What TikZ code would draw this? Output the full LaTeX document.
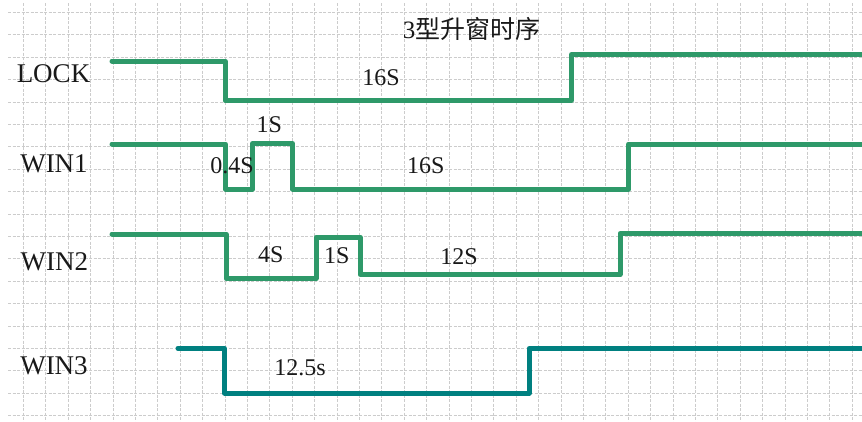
\documentclass[tikz,border=0pt]{standalone}
\usepackage{fontspec}
\setmainfont{Liberation Serif}
\newfontfamily\cjk{Noto Sans CJK SC}
\usepackage{tikz}
\usetikzlibrary{calc}
\usetikzlibrary{positioning}
\definecolor{wingreen}{rgb}{0.18,0.60,0.41}
\definecolor{winteal}{rgb}{0,0.5,0.5}
\definecolor{gridgray}{rgb}{0.80,0.80,0.80}
\definecolor{txt}{rgb}{0.1,0.1,0.1}

\begin{document}
\begin{tikzpicture}[x=1pt, y=-1pt,
    sig/.style={line width=5pt, line join=round, line cap=round, color=wingreen},
    lbl/.style={text=txt, inner sep=0pt, font=\fontsize{27}{30}\selectfont},
    dur/.style={text=txt, inner sep=0pt, font=\fontsize{24}{28}\selectfont}]
  \useasboundingbox (0, 0) rectangle (862, 421);
  \fill[white] (0, 0) rectangle (862, 421);

  \foreach \i in {0, 1, ..., 37} {
    \draw[gridgray, line width=0.8pt, dash pattern=on 3pt off 1.5pt] (23.3+22.4*\i, 3) -- +(0, 420);
  }
  \foreach \j in {0, 1, ..., 18} {
    \draw[gridgray, line width=0.8pt, dash pattern=on 3pt off 1.5pt] (8, 12.3+22.4*\j) -- +(860, 0);
  }

  \draw[sig] (112, 61) -- (225, 61) -- (225, 100.5) -- (571.5, 100.5) -- (571.5, 54.5) -- (870, 54.5);
  \draw[sig] (112, 144) -- (225.5, 144) -- (225.5, 189) -- (252.5, 189) -- (252.5, 143.5)
    -- (292.5, 143.5) -- (292.5, 189) -- (628.5, 189) -- (628.5, 144) -- (870, 144);
  \draw[sig] (112, 234) -- (226, 234) -- (226, 278.5) -- (316, 278.5) -- (316, 237)
    -- (360, 237) -- (360, 274.5) -- (620, 274.5) -- (620, 233.5) -- (870, 233.5);
  \draw[sig, color=winteal] (178, 348.3) -- (224.5, 348.3) -- (224.5, 393) -- (529, 393)
    -- (529, 348.3) -- (870, 348.3);

  \node[text=txt, inner sep=0pt, font=\fontsize{25}{30}\selectfont] (title) at (471.5, 29) {3\cjk 型升窗时序};

  \node[lbl] (lock) at (53.5, 74) {LOCK};
  \node[lbl] (win1) at (54, 164) {WIN1};
  \node[lbl] (win2) at (54.3, 262) {WIN2};
  \node[lbl] (win3) at (54, 366) {WIN3};

  \node[dur] (lock16) at (381, 77.3) {16S};
  \node[dur] (win1a) at (232, 166) {0.4S};
  \node[dur] (win1b) at (269.3, 125) {1S};
  \node[dur] (win1c) at (425.7, 165.7) {16S};
  \node[dur] (win2a) at (270.7, 255) {4S};
  \node[dur] (win2b) at (336.7, 256) {1S};
  \node[dur] (win2c) at (459, 256.7) {12S};
  \node[dur] (win3a) at (300, 368) {12.5s};
\end{tikzpicture}
\end{document}
